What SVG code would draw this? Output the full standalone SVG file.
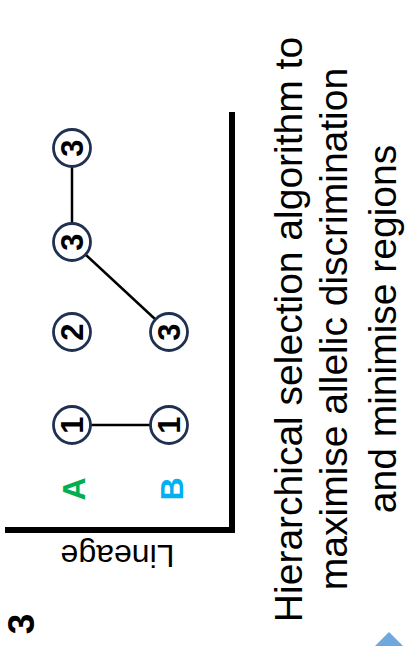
<svg xmlns="http://www.w3.org/2000/svg" width="414" height="646" viewBox="0 0 414 646">
<style>
.node circle{fill:#fff;stroke:#1F3050;stroke-width:2.8}
.node text{font-family:"Liberation Sans",Arial,sans-serif;font-weight:bold;font-size:31px;fill:#000;text-anchor:middle}
.edge{stroke:#000;stroke-width:2.5;fill:none}
.axis{stroke:#000;stroke-width:6;fill:none}
.lbl{font-family:"Liberation Sans",Arial,sans-serif;font-weight:bold;font-size:32px;text-anchor:middle}
.title{font-family:"Liberation Sans",Arial,sans-serif;font-size:39px;fill:#000;text-anchor:middle}
</style>
<rect width="414" height="646" fill="#fff"/>
<g id="axes">
<polyline class="axis" points="232,112 232,530 5,530"/>
</g>
<g id="connectors">
<line class="edge" x1="91" y1="425" x2="150" y2="425"/>
<line class="edge" x1="72" y1="166" x2="72" y2="224"/>
<line class="edge" x1="85.5" y1="254.5" x2="155.5" y2="319.5"/>
</g>
<g id="n-a1" class="node"><circle cx="72" cy="425" r="18.5"/><text transform="translate(72,425) rotate(-90)" y="11">1</text></g>
<g id="n-b1" class="node"><circle cx="169" cy="425" r="18.5"/><text transform="translate(169,425) rotate(-90)" y="11">1</text></g>
<g id="n-a2" class="node"><circle cx="72" cy="332" r="18.5"/><text transform="translate(72,332) rotate(-90)" y="11">2</text></g>
<g id="n-b3" class="node"><circle cx="169" cy="332" r="18.5"/><text transform="translate(169,332) rotate(-90)" y="11">3</text></g>
<g id="n-a3a" class="node"><circle cx="72" cy="242" r="18.5"/><text transform="translate(72,242) rotate(-90)" y="11">3</text></g>
<g id="n-a3b" class="node"><circle cx="72" cy="148" r="18.5"/><text transform="translate(72,148) rotate(-90)" y="11">3</text></g>
<g id="lineage-labels">
<text class="lbl" fill="#00B050" transform="translate(73.5,489) rotate(-90)" y="11.5">A</text>
<text class="lbl" fill="#00B0F0" transform="translate(171,489) rotate(-90)" y="11.5">B</text>
</g>
<text id="lineage" font-family="Liberation Sans, Arial, sans-serif" font-size="32" text-anchor="middle" transform="translate(117.5,545) rotate(180)">Lineage</text>
<text id="panel-num" font-family="Liberation Sans, Arial, sans-serif" font-weight="bold" font-size="37" text-anchor="middle" transform="translate(34,624) rotate(-90)">3</text>
<g id="title" class="title">
<text transform="translate(302,329.5) rotate(-90)">Hierarchical selection algorithm to</text>
<text transform="translate(347,329) rotate(-90)">maximise allelic discrimination</text>
<text transform="translate(396,329) rotate(-90)">and minimise regions</text>
</g>
<polygon id="nav-arrow" points="389,632 403,646 375,646" fill="#6FA8DC"/>
</svg>
